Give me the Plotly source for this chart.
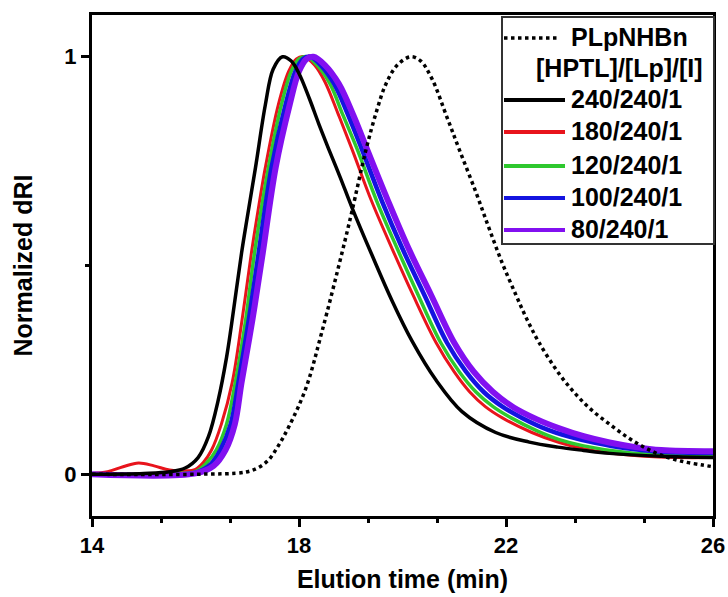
import plotly.graph_objects as go

# ---------------- data ----------------
x_plp = [14.0, 16.0, 16.96, 17.2, 17.41, 17.6, 17.8, 18.13, 18.44, 18.83, 19.02, 19.29, 19.5,
         19.68, 19.9, 20.16, 20.35, 20.57, 20.86, 21.09, 21.42, 21.67, 21.93, 22.19, 22.39,
         22.64, 23.03, 23.36, 23.67, 24.0, 24.33, 24.65, 24.97, 25.4, 25.8, 26.0]
y_plp = [0.0, 0.0, 0.005, 0.015, 0.034, 0.068, 0.113, 0.205, 0.34, 0.53, 0.628, 0.775, 0.87,
         0.935, 0.98, 1.0, 0.99, 0.947, 0.855, 0.78, 0.675, 0.59, 0.505, 0.43, 0.375,
         0.315, 0.24, 0.19, 0.152, 0.12, 0.09, 0.066, 0.047, 0.031, 0.022, 0.018]

x_240 = [14.0, 15.0, 15.5, 15.8, 16.05, 16.25, 16.44, 16.6, 16.69, 16.89, 17.0, 17.16, 17.35,
         17.5, 17.68, 17.85, 18.0, 18.2, 18.38, 18.57, 18.8, 19.02, 19.41, 19.8, 20.18, 20.65,
         21.15, 21.8, 22.45, 23.0, 23.5, 24.0, 25.0, 26.0]
y_240 = [0.0, 0.002, 0.006, 0.015, 0.04, 0.09, 0.178, 0.28, 0.353, 0.53, 0.615, 0.735, 0.885,
         0.97, 1.0, 0.99, 0.96, 0.9, 0.84, 0.78, 0.71, 0.64, 0.525, 0.415, 0.32, 0.225,
         0.15, 0.10, 0.077, 0.065, 0.057, 0.05, 0.043, 0.04]

x_180 = [14.0, 14.3, 14.6, 14.9, 15.2, 15.5, 15.8, 16.0, 16.15, 16.31, 16.5, 16.71, 16.9,
         17.08, 17.2, 17.35, 17.6, 17.8, 17.95, 18.1, 18.3, 18.5, 18.75, 19.02, 19.4, 19.8,
         20.2, 20.65, 21.0, 21.3, 21.6, 21.93, 22.5, 23.03, 23.5, 24.0, 24.6, 25.3, 26.0]
y_180 = [0.002, 0.006, 0.018, 0.027, 0.02, 0.01, 0.008, 0.012, 0.028, 0.058, 0.12, 0.22, 0.37,
         0.53, 0.625, 0.735, 0.885, 0.965, 0.995, 1.0, 0.98, 0.94, 0.865, 0.78, 0.655, 0.54,
         0.43, 0.315, 0.245, 0.197, 0.162, 0.135, 0.1, 0.076, 0.061, 0.051, 0.044, 0.04, 0.04]

x_120 = [14.0, 15.5, 16.0, 16.2, 16.4, 16.6, 16.77, 16.97, 17.14, 17.41, 17.66, 17.85, 18.0,
         18.16, 18.35, 18.6, 18.85, 19.12, 19.5, 19.9, 20.3, 20.74, 21.1, 21.42, 21.75, 22.1,
         22.6, 23.03, 23.5, 24.33, 25.0, 26.0]
y_120 = [0.0, 0.002, 0.006, 0.025, 0.058, 0.12, 0.22, 0.37, 0.53, 0.735, 0.885, 0.965, 0.995,
         1.0, 0.98, 0.935, 0.86, 0.78, 0.655, 0.54, 0.43, 0.315, 0.245, 0.197, 0.162, 0.135,
         0.104, 0.083, 0.068, 0.052, 0.047, 0.046]

x_100 = [14.0, 16.0, 16.3, 16.48, 16.68, 16.83, 17.03, 17.22, 17.47, 17.74, 17.93, 18.08,
         18.22, 18.42, 18.68, 18.95, 19.21, 19.6, 20.0, 20.42, 20.86, 21.22, 21.57, 21.93,
         22.31, 22.8, 23.2, 23.7, 24.33, 25.0, 26.0]
y_100 = [0.0, 0.004, 0.025, 0.058, 0.12, 0.22, 0.37, 0.53, 0.735, 0.885, 0.965, 0.995,
         1.0, 0.98, 0.935, 0.86, 0.78, 0.655, 0.54, 0.43, 0.315, 0.247, 0.197, 0.162,
         0.135, 0.107, 0.091, 0.076, 0.062, 0.054, 0.051]

x_80 = [14.0, 16.0, 16.35, 16.58, 16.76, 16.89, 17.1, 17.3, 17.55, 17.82, 18.0, 18.15, 18.28,
        18.5, 18.77, 19.05, 19.31, 19.72, 20.12, 20.55, 21.0, 21.38, 21.75, 22.15, 22.59,
        23.03, 23.5, 24.0, 24.5, 25.0, 26.0]
y_80 = [0.0, 0.002, 0.02, 0.058, 0.12, 0.22, 0.37, 0.53, 0.735, 0.885, 0.965, 0.995, 1.0,
        0.98, 0.935, 0.86, 0.78, 0.655, 0.54, 0.43, 0.315, 0.245, 0.197, 0.16, 0.132,
        0.11, 0.091, 0.076, 0.065, 0.058, 0.055]

series_names = ["240/240/1", "180/240/1", "120/240/1", "100/240/1", "80/240/1"]
series_colors = ["#000000", "#e8141c", "#2ec82e", "#1414e0", "#8210f0"]
series_widths = [3.5, 3, 3.5, 4.5, 6]
series_x = [x_240, x_180, x_120, x_100, x_80]
series_y = [y_240, y_180, y_120, y_100, y_80]

ref_name = "PLpNHBn"
header_text = "[HPTL]/[Lp]/[I]"
x_ticks = [14, 18, 22, 26]
y_ticks = [0, 1]

FONT = "Arial, Liberation Sans, sans-serif"

fig = go.Figure()

# draw order: colored series first, black above, dotted reference last
order = [1, 2, 3, 4, 0]
for i in order:
    fig.add_trace(go.Scatter(
        x=series_x[i], y=series_y[i], mode="lines", name=series_names[i],
        line=dict(color=series_colors[i], width=series_widths[i], shape="spline", smoothing=1.0),
        showlegend=False))

fig.add_trace(go.Scatter(
    x=x_plp, y=y_plp, mode="lines", name=ref_name,
    line=dict(color="#000000", width=3.5, dash="3.5px,3.5px", shape="spline", smoothing=1.0),
    showlegend=False))

# ---------------- manual legend (paper coordinates) ----------------
PL, PR, PT, PB = 92, 713, 15, 516   # plot area in pixels

def px2x(px):
    return (px - PL) / float(PR - PL)

def py2y(py):
    return (PB - py) / float(PB - PT)

shapes = [dict(type="rect", xref="paper", yref="paper", x0=px2x(502), x1=px2x(714),
               y0=py2y(244), y1=py2y(17),
               line=dict(color="#333333", width=2), fillcolor="white", layer="above")]
annotations = []

lx0, lx1, tx = px2x(504), px2x(565), px2x(569)
legend_font = dict(family=FONT, size=25, color="black", weight="bold")
# reference entry (dotted)
shapes.append(dict(type="line", xref="paper", yref="paper", x0=lx0, x1=px2x(560),
                   y0=py2y(38), y1=py2y(38),
                   line=dict(color="black", width=3.5, dash="3.5px,3.5px"), layer="above"))
annotations.append(dict(xref="paper", yref="paper", x=tx, y=py2y(37), text=ref_name,
                        showarrow=False, xanchor="left", yanchor="middle", font=legend_font))
# header
annotations.append(dict(xref="paper", yref="paper", x=px2x(619), y=py2y(68), text=header_text,
                        showarrow=False, xanchor="center", yanchor="middle", font=legend_font))
row_py = [100, 132, 166, 198, 230]
for name, col, rp in zip(series_names, series_colors, row_py):
    shapes.append(dict(type="line", xref="paper", yref="paper", x0=lx0, x1=lx1,
                       y0=py2y(rp), y1=py2y(rp), line=dict(color=col, width=4), layer="above"))
    annotations.append(dict(xref="paper", yref="paper", x=tx, y=py2y(rp - 1), text=name,
                            showarrow=False, xanchor="left", yanchor="middle", font=legend_font))

fig.update_layout(
    width=728, height=597,
    margin=dict(l=PL, r=728 - PR, t=PT, b=597 - PB, autoexpand=False),
    paper_bgcolor="white", plot_bgcolor="white",
    font=dict(family=FONT, color="black"),
    shapes=shapes, annotations=annotations,
    showlegend=False,
)

fig.update_xaxes(
    range=[14, 26], tickmode="array", tickvals=x_ticks, ticktext=[str(t) for t in x_ticks],
    automargin=False,
    showgrid=False, zeroline=False, showline=True, linecolor="black", linewidth=3, mirror=True,
    ticks="outside", ticklen=8, tickwidth=3, tickcolor="black",
    minor=dict(tickmode="linear", tick0=14, dtick=4/3, ticks="outside", ticklen=4,
               tickwidth=3, tickcolor="black", showgrid=False),
    tickfont=dict(family=FONT, size=22, color="black", weight="bold"),
    title=dict(text="Elution time (min)", standoff=14,
               font=dict(family=FONT, size=25, color="black", weight="bold")),
)
fig.update_yaxes(
    range=[-0.1, 1.1], tickmode="array", tickvals=y_ticks, ticktext=[str(t) for t in y_ticks],
    automargin=False,
    showgrid=False, zeroline=False, showline=True, linecolor="black", linewidth=3, mirror=True,
    ticks="outside", ticklen=8, tickwidth=3, tickcolor="black",
    minor=dict(tickmode="linear", tick0=0, dtick=0.5, ticks="outside", ticklen=4,
               tickwidth=3, tickcolor="black", showgrid=False),
    tickfont=dict(family=FONT, size=22, color="black", weight="bold"),
    title=dict(text="Normalized dRI", standoff=25,
               font=dict(family=FONT, size=25, color="black", weight="bold")),
)

fig.write_html("out.html")
